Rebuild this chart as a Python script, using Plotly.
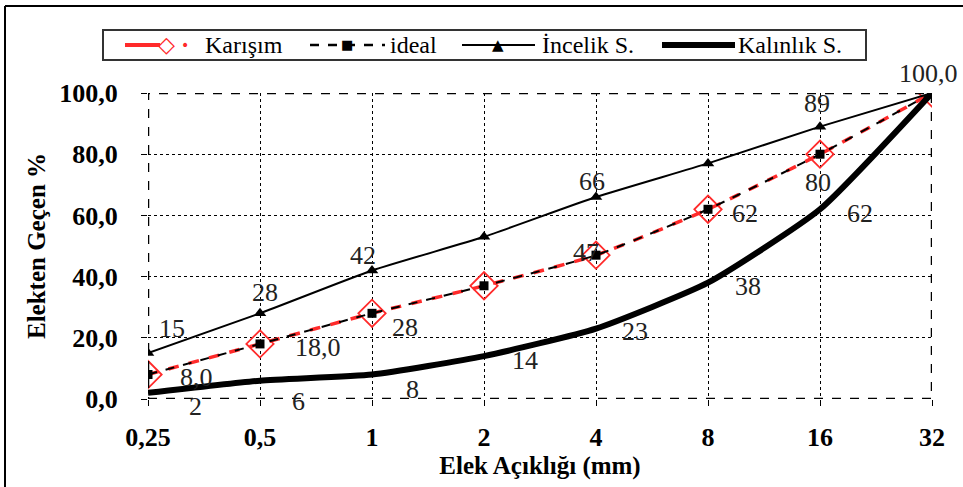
import plotly.graph_objects as go

categories = ["0,25", "0,5", "1", "2", "4", "8", "16", "32"]
karisim = [8, 18, 28, 37, 47, 62, 80, 100]
ideal = [8, 18, 28, 37, 47, 62, 80, 100]
incelik = [15, 28, 42, 53, 66, 77, 89, 100]
kalinlik = [2, 6, 8, 14, 23, 38, 62, 100]
y_ticks = [0, 20, 40, 60, 80, 100]
series_names = ["Karışım", "ideal", "İncelik S.", "Kalınlık S."]

# data labels: (index, text, xshift, yshift)
incelik_labels = [(0, "15", 24, 25), (1, "28", 5, 21), (2, "42", -9, 15),
                  (4, "66", -4, 16), (6, "89", -3, 23), (7, "100,0", -4, 20)]
karisim_labels = [(0, "8,0", 48, -3), (1, "18,0", 58, -4), (2, "28", 33, -14),
                  (4, "47", -10, 3), (5, "62", 37, -4), (6, "80", -2, -28)]
kalinlik_labels = [(0, "2", 47, -14), (1, "6", 38, -21), (2, "8", 40, -15),
                   (3, "14", 41, -4), (4, "23", 39, -3), (5, "38", 40, -4),
                   (6, "62", 40, -4)]

x = list(range(len(categories)))
SERIF = "Liberation Serif, Times New Roman, serif"

# plot area in pixels (for the hand-drawn legend box in the top margin)
L, R, T, B = 148, 31, 93, 88
W, H = 963, 487
PW, PH = W - L - R, H - T - B


def px(v):
    return (v - L) / PW


def py(v):
    return (H - B - v) / PH


fig = go.Figure()
fig.add_trace(go.Scatter(
    x=x, y=karisim, name=series_names[0], mode="lines+markers",
    line=dict(color="#ff2a2a", width=3.5, dash="dash", shape="spline", smoothing=0.5),
    marker=dict(symbol="diamond-open", size=21, color="#ff2a2a", line=dict(width=1.8)),
))
fig.add_trace(go.Scatter(
    x=x, y=ideal, name=series_names[1], mode="lines+markers",
    line=dict(color="black", width=2, dash="dash", shape="spline", smoothing=0.5),
    marker=dict(symbol="square", size=9, color="black"),
))
fig.add_trace(go.Scatter(
    x=x, y=incelik, name=series_names[2], mode="lines+markers",
    line=dict(color="black", width=2, shape="spline", smoothing=0.5),
    marker=dict(symbol="triangle-up", size=11, color="black"),
))
fig.add_trace(go.Scatter(
    x=x, y=kalinlik, name=series_names[3], mode="lines",
    line=dict(color="black", width=6, shape="spline", smoothing=0.5),
))

ann = []
for series, labels in ((incelik, incelik_labels), (karisim, karisim_labels), (kalinlik, kalinlik_labels)):
    for i, t, dx, dy in labels:
        ann.append(dict(x=i, y=series[i], text=t, showarrow=False, xshift=dx, yshift=dy,
                        font=dict(family=SERIF, size=26, color="#222")))

# legend (drawn by hand so the box matches the original's tight frame)
LY = 45
shapes = [
    dict(type="rect", xref="x", yref="y", x0=0, x1=7, y0=0, y1=100,
         line=dict(color="black", width=2.5, dash="dash"), layer="above"),
    dict(type="line", xref="paper", yref="paper", x0=px(5), x1=px(963), y0=py(6), y1=py(6),
         line=dict(color="black", width=2)),
    dict(type="line", xref="paper", yref="paper", x0=px(5), x1=px(5), y0=py(6), y1=py(487),
         line=dict(color="black", width=2)),
    dict(type="rect", xref="paper", yref="paper", x0=px(103), x1=px(866), y0=py(60), y1=py(30),
         line=dict(color="#333", width=2), fillcolor="white", layer="below"),
    dict(type="line", xref="paper", yref="paper", x0=px(125), x1=px(160), y0=py(LY), y1=py(LY),
         line=dict(color="#ff2a2a", width=4)),
    dict(type="line", xref="paper", yref="paper", x0=px(310), x1=px(385), y0=py(LY), y1=py(LY),
         line=dict(color="black", width=2.5, dash="dash")),
    dict(type="line", xref="paper", yref="paper", x0=px(462), x1=px(535), y0=py(LY), y1=py(LY),
         line=dict(color="black", width=2)),
    dict(type="line", xref="paper", yref="paper", x0=px(662), x1=px(735), y0=py(LY), y1=py(LY),
         line=dict(color="black", width=6)),
]
leg_marks = [(166, "◇", "#ff2a2a", 22), (185, "•", "#ff2a2a", 14),
             (347, "■", "black", 13), (498, "▲", "black", 15)]
for xp, ch, col, sz in leg_marks:
    ann.append(dict(xref="paper", yref="paper", x=px(xp), y=py(LY), text=ch, showarrow=False,
                    xanchor="center", yanchor="middle",
                    font=dict(family="DejaVu Sans", size=sz, color=col)))
for xp, name in zip([203, 388, 540, 736], series_names):
    ann.append(dict(xref="paper", yref="paper", x=px(xp), y=py(LY), text=name, showarrow=False,
                    xanchor="left", yanchor="middle",
                    font=dict(family=SERIF, size=24, color="black")))

fig.update_layout(
    width=W, height=H,
    font=dict(family=SERIF, size=24, color="black"),
    margin=dict(l=L, r=R, t=T, b=B),
    paper_bgcolor="white", plot_bgcolor="white",
    separators=",.",
    showlegend=False,
    annotations=ann,
    shapes=shapes,
)
fig.update_xaxes(
    range=[0, 7], tickmode="array", tickvals=x, ticktext=categories,
    showgrid=True, gridcolor="black", griddash="dot", gridwidth=1,
    ticks="outside", ticklen=6, tickcolor="black", zeroline=False, automargin=False,
    ticklabelstandoff=9,
    tickfont=dict(family=SERIF, size=26, color="black", weight="bold"),
    title=dict(text="<b>Elek Açıklığı (mm)</b>", font=dict(family=SERIF, size=25, color="black"), standoff=2),
)
fig.update_yaxes(
    range=[0, 100], tickmode="array", tickvals=y_ticks, tickformat=".1f",
    showgrid=True, gridcolor="black", griddash="dot", gridwidth=1,
    ticks="outside", ticklen=6, tickcolor="black", zeroline=False, automargin=False,
    ticklabelstandoff=18,
    tickfont=dict(family=SERIF, size=26, color="black", weight="bold"),
    title=dict(text="<b>Elekten Geçen %</b>", font=dict(family=SERIF, size=25, color="black"), standoff=6),
)
fig.write_html("out.html", config={"displayModeBar": False},
               post_script="document.body.style.margin='0';")
